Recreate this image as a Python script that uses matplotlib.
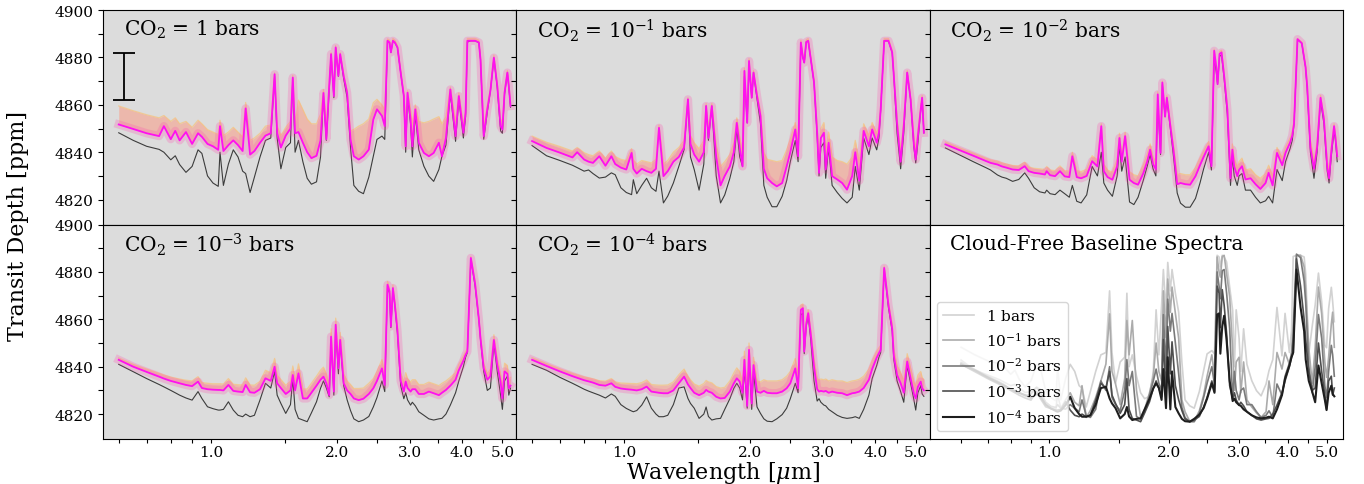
import matplotlib
matplotlib.use('Agg')
import numpy as np
import matplotlib.pyplot as plt
from matplotlib.ticker import NullLocator, FuncFormatter

plt.rcParams['font.family'] = 'serif'
plt.rcParams['font.serif'] = ['DejaVu Serif']
plt.rcParams['mathtext.fontset'] = 'dejavuserif'

# ------------------------------------------------------------
# wavelength grid [um]
# ------------------------------------------------------------
wave = [0.60, 0.65, 0.70, 0.75, 0.77, 0.80, 0.82, 0.84, 0.87, 0.90,
        0.93, 0.95, 0.98, 1.01, 1.04, 1.05, 1.07, 1.10, 1.13, 1.16,
        1.19, 1.21, 1.24, 1.27, 1.31, 1.35, 1.39, 1.42, 1.44, 1.47,
        1.51, 1.55, 1.57, 1.59, 1.62, 1.66, 1.70, 1.74, 1.79, 1.83,
        1.86, 1.89, 1.92, 1.94, 1.97, 1.99, 2.02, 2.04, 2.08, 2.12,
        2.16, 2.20, 2.26, 2.32, 2.39, 2.45, 2.50, 2.57, 2.61, 2.65,
        2.68, 2.70, 2.73, 2.76, 2.80, 2.85, 2.90, 2.93, 2.96, 3.01,
        3.04, 3.09, 3.15, 3.24, 3.33, 3.42, 3.52, 3.58, 3.66, 3.75,
        3.86, 3.93, 4.03, 4.08, 4.12, 4.20, 4.30, 4.39, 4.43, 4.51,
        4.60, 4.68, 4.77, 4.86, 4.95, 5.00, 5.06, 5.14, 5.18, 5.23]

# ---------------- CO2 = 1 bar ----------------
clear_0 = [4848.2, 4845.0, 4842.5, 4841.2, 4840.0, 4836.8, 4838.5, 4834.8, 4831.5, 4834.0,
           4841.0, 4839.5, 4830.0, 4827.0, 4825.6, 4840.0, 4826.0, 4835.0, 4841.0, 4838.0,
           4832.0, 4831.0, 4823.0, 4829.5, 4838.0, 4845.0, 4846.0, 4872.0, 4846.0, 4833.0,
           4842.0, 4844.0, 4871.0, 4840.0, 4845.0, 4836.0, 4829.0, 4826.5, 4827.5, 4838.0,
           4864.0, 4845.0, 4866.0, 4881.0, 4863.0, 4884.0, 4872.0, 4881.0, 4871.0, 4863.0,
           4842.0, 4826.0, 4823.5, 4822.5, 4829.5, 4838.3, 4845.4, 4846.8, 4845.4, 4887.0,
           4886.3, 4882.1, 4887.0, 4886.3, 4884.2, 4873.6, 4863.7, 4840.0, 4864.0, 4852.0,
           4838.0, 4856.0, 4841.0, 4834.1, 4829.9, 4827.7, 4832.7, 4838.3, 4843.0, 4865.0,
           4844.6, 4862.5, 4846.0, 4855.0, 4886.5, 4887.0, 4887.0, 4886.3, 4879.2, 4845.5,
           4857.0, 4866.0, 4879.5, 4867.5, 4849.0, 4848.0, 4864.5, 4873.5, 4867.5, 4859.0]
cloud_0 = [4851.7, 4849.8, 4848.0, 4846.8, 4851.0, 4845.5, 4849.0, 4845.0, 4848.5, 4843.5,
           4848.0, 4846.5, 4843.5, 4842.5, 4841.0, 4851.0, 4840.5, 4843.0, 4845.0, 4843.0,
           4840.5, 4858.5, 4839.0, 4840.5, 4844.0, 4847.0, 4848.0, 4872.9, 4848.0, 4842.0,
           4847.0, 4850.0, 4871.5, 4848.0, 4848.5, 4844.0, 4840.0, 4837.5, 4838.5, 4845.0,
           4865.0, 4845.5, 4868.0, 4881.4, 4863.7, 4884.2, 4872.2, 4881.4, 4872.0, 4865.0,
           4845.4, 4838.3, 4836.9, 4838.3, 4841.1, 4853.8, 4858.1, 4855.3, 4851.0, 4887.0,
           4886.3, 4882.1, 4887.0, 4886.3, 4884.2, 4873.6, 4863.7, 4842.5, 4865.1, 4853.8,
           4842.5, 4858.1, 4844.0, 4839.7, 4838.3, 4839.7, 4844.0, 4838.3, 4846.0, 4866.5,
           4846.8, 4863.7, 4848.2, 4856.7, 4887.0, 4887.0, 4887.0, 4886.3, 4879.2, 4846.8,
           4858.1, 4866.0, 4879.9, 4868.0, 4851.0, 4849.6, 4865.1, 4873.6, 4868.0, 4859.5]
top_0 = [4859.5, 4857.5, 4855.8, 4854.5, 4855.5, 4853.0, 4854.5, 4852.0, 4853.0, 4850.5,
         4853.5, 4852.0, 4849.5, 4848.5, 4847.5, 4853.5, 4847.0, 4848.5, 4850.5, 4848.5,
         4846.5, 4861.0, 4845.0, 4846.0, 4848.0, 4851.0, 4851.5, 4873.5, 4851.0, 4847.0,
         4850.5, 4853.0, 4872.5, 4851.5, 4862.0, 4858.0, 4854.0, 4852.0, 4852.0, 4856.0,
         4866.5, 4852.0, 4869.0, 4882.0, 4865.0, 4885.0, 4873.0, 4882.0, 4873.0, 4866.0,
         4849.0, 4849.6, 4851.0, 4852.0, 4854.0, 4860.9, 4862.3, 4860.0, 4858.0, 4887.8,
         4887.3, 4883.0, 4888.0, 4887.3, 4885.0, 4874.5, 4865.0, 4853.0, 4866.0, 4858.0,
         4852.0, 4860.0, 4853.0, 4852.4, 4853.0, 4854.0, 4855.0, 4852.0, 4855.0, 4867.5,
         4853.0, 4865.0, 4852.0, 4858.0, 4888.0, 4888.0, 4888.0, 4887.3, 4880.0, 4851.0,
         4860.0, 4867.0, 4881.0, 4869.0, 4854.0, 4853.0, 4866.0, 4874.5, 4869.0, 4861.0]

# ---------------- CO2 = 1e-1 bar ----------------
clear_1 = [4842.8, 4838.5, 4836.5, 4834.5, 4833.5, 4832.0, 4832.5, 4831.0, 4829.1, 4829.5,
           4831.3, 4830.5, 4825.0, 4823.0, 4822.1, 4828.4, 4822.5, 4826.0, 4829.0, 4825.0,
           4823.5, 4832.0, 4818.6, 4821.5, 4827.0, 4834.0, 4841.1, 4862.3, 4838.0, 4832.7,
           4824.0, 4835.0, 4859.5, 4845.0, 4859.5, 4830.0, 4818.6, 4822.0, 4829.0, 4836.0,
           4850.0, 4838.0, 4834.0, 4872.0, 4852.4, 4877.0, 4863.0, 4873.6, 4862.5, 4852.0,
           4826.0, 4821.0, 4817.0, 4817.0, 4821.4, 4828.0, 4836.0, 4845.0, 4836.0, 4886.3,
           4880.0, 4877.8, 4886.5, 4887.0, 4879.2, 4869.5, 4847.0, 4830.0, 4842.0, 4844.0,
           4829.0, 4842.0, 4826.0, 4823.0, 4820.5, 4818.6, 4821.0, 4834.0, 4824.0, 4846.0,
           4839.0, 4846.0, 4841.0, 4846.0, 4858.0, 4887.0, 4887.0, 4882.1, 4872.2, 4848.0,
           4833.0, 4848.0, 4873.6, 4862.3, 4842.0, 4835.5, 4844.0, 4858.0, 4863.0, 4848.2]
cloud_1 = [4844.7, 4841.8, 4839.8, 4837.8, 4840.0, 4836.9, 4836.0, 4835.5, 4838.3, 4834.3,
           4838.3, 4835.0, 4833.5, 4832.7, 4839.7, 4833.0, 4831.0, 4833.0, 4832.0, 4831.3,
           4833.0, 4850.3, 4829.9, 4832.0, 4836.0, 4838.0, 4842.0, 4862.3, 4843.5, 4839.0,
           4836.0, 4840.0, 4859.5, 4846.0, 4859.5, 4838.0, 4826.0, 4830.0, 4834.0, 4840.0,
           4852.4, 4842.0, 4834.0, 4874.3, 4852.4, 4878.5, 4863.0, 4873.6, 4863.7, 4855.3,
           4833.0, 4829.0, 4827.0, 4825.6, 4827.0, 4834.0, 4840.0, 4849.6, 4838.3, 4886.3,
           4880.0, 4877.8, 4886.5, 4887.0, 4879.2, 4869.5, 4848.0, 4831.3, 4846.0, 4848.2,
           4832.7, 4844.0, 4829.9, 4828.5, 4827.0, 4824.2, 4830.0, 4840.0, 4828.0, 4849.0,
           4842.5, 4849.6, 4844.0, 4848.2, 4858.0, 4887.0, 4887.0, 4882.1, 4872.2, 4852.0,
           4836.0, 4851.0, 4873.6, 4862.3, 4843.0, 4836.9, 4846.8, 4858.0, 4863.0, 4848.2]
top_1 = [4846.8, 4844.2, 4842.4, 4840.5, 4842.0, 4839.8, 4839.0, 4838.5, 4840.5, 4837.5,
         4840.5, 4838.2, 4837.0, 4836.5, 4841.5, 4836.8, 4835.0, 4836.5, 4836.0, 4835.5,
         4837.0, 4851.5, 4835.0, 4836.5, 4840.0, 4842.0, 4845.0, 4863.0, 4847.0, 4844.0,
         4841.5, 4845.0, 4860.5, 4850.0, 4860.5, 4843.0, 4834.0, 4836.0, 4839.0, 4844.0,
         4854.5, 4846.5, 4840.0, 4875.5, 4855.0, 4879.5, 4865.0, 4874.5, 4865.0, 4857.5,
         4840.0, 4837.0, 4836.5, 4836.0, 4836.5, 4841.0, 4845.5, 4852.5, 4844.0, 4887.3,
         4881.0, 4878.8, 4887.5, 4888.0, 4880.2, 4870.5, 4851.0, 4838.0, 4850.0, 4852.5,
         4840.0, 4848.5, 4838.0, 4836.5, 4836.0, 4835.0, 4838.0, 4845.0, 4836.0, 4852.0,
         4847.0, 4852.5, 4848.0, 4851.0, 4860.0, 4888.0, 4888.0, 4883.0, 4873.0, 4854.5,
         4840.5, 4853.5, 4874.5, 4863.5, 4846.5, 4841.0, 4849.5, 4859.5, 4864.0, 4849.5]

# ---------------- CO2 = 1e-2 bar ----------------
clear_2 = [4841.8, 4838.8, 4836.0, 4833.5, 4832.5, 4830.4, 4829.5, 4829.0, 4827.7, 4828.5,
           4831.3, 4829.0, 4825.0, 4823.3, 4822.8, 4824.0, 4822.5, 4822.1, 4824.0, 4822.5,
           4821.0, 4826.0, 4819.3, 4818.6, 4822.0, 4834.0, 4830.0, 4840.0, 4827.0, 4824.0,
           4821.4, 4830.0, 4843.0, 4832.0, 4838.0, 4819.0, 4817.9, 4821.0, 4828.0, 4834.0,
           4839.0, 4833.0, 4830.0, 4862.0, 4839.0, 4868.5, 4855.0, 4862.5, 4850.0, 4837.0,
           4822.8, 4818.5, 4816.8, 4816.8, 4820.5, 4827.0, 4833.0, 4840.0, 4832.5, 4880.0,
           4874.0, 4868.7, 4880.5, 4881.0, 4871.0, 4856.0, 4826.0, 4838.0, 4830.0, 4826.0,
           4830.0, 4831.0, 4824.0, 4824.0, 4821.0, 4818.6, 4819.5, 4821.4, 4818.6, 4832.7,
           4828.0, 4836.0, 4841.5, 4845.0, 4852.0, 4887.5, 4886.0, 4876.0, 4867.0, 4840.0,
           4829.0, 4840.0, 4862.0, 4852.0, 4832.0, 4827.0, 4838.0, 4849.0, 4845.0, 4836.0]
cloud_2 = [4843.3, 4840.8, 4838.5, 4836.3, 4835.5, 4834.8, 4834.0, 4833.5, 4832.7, 4832.5,
           4834.1, 4832.0, 4831.3, 4831.0, 4830.6, 4832.0, 4830.3, 4829.9, 4832.0, 4829.8,
           4829.5, 4838.3, 4829.5, 4829.0, 4830.0, 4836.2, 4834.0, 4851.0, 4832.0, 4829.5,
           4828.4, 4834.0, 4846.0, 4836.0, 4846.8, 4828.4, 4827.0, 4826.3, 4831.0, 4836.0,
           4841.1, 4835.0, 4832.7, 4864.4, 4839.7, 4869.4, 4855.0, 4863.0, 4851.0, 4839.7,
           4826.5, 4827.0, 4826.5, 4826.3, 4829.9, 4834.5, 4838.0, 4842.5, 4834.1, 4882.8,
           4876.0, 4868.7, 4881.5, 4882.1, 4872.2, 4858.1, 4829.0, 4841.1, 4834.0, 4829.9,
           4832.5, 4834.1, 4828.5, 4829.0, 4826.5, 4824.5, 4827.0, 4831.3, 4826.0, 4839.7,
           4834.5, 4839.7, 4844.0, 4847.0, 4852.0, 4887.7, 4886.0, 4876.0, 4868.0, 4842.0,
           4833.0, 4842.0, 4863.0, 4853.8, 4833.5, 4829.0, 4840.0, 4851.0, 4846.0, 4838.3]
top_2 = [4844.3, 4841.8, 4839.6, 4837.5, 4836.8, 4836.2, 4835.5, 4835.0, 4834.4, 4834.2,
         4835.8, 4833.8, 4833.2, 4833.0, 4832.7, 4834.0, 4832.5, 4832.2, 4834.2, 4832.2,
         4832.0, 4840.0, 4832.2, 4831.8, 4832.8, 4838.5, 4836.8, 4852.0, 4835.0, 4832.5,
         4831.5, 4837.0, 4848.0, 4839.0, 4848.5, 4831.8, 4830.5, 4830.0, 4834.5, 4839.0,
         4843.5, 4838.0, 4836.0, 4865.5, 4842.0, 4870.0, 4856.5, 4864.0, 4852.5, 4842.0,
         4830.5, 4831.0, 4830.5, 4830.5, 4833.5, 4837.5, 4840.5, 4844.5, 4837.0, 4883.5,
         4877.0, 4870.0, 4882.5, 4883.0, 4873.0, 4859.5, 4833.0, 4843.5, 4837.5, 4833.5,
         4836.0, 4837.5, 4832.5, 4833.0, 4830.5, 4829.0, 4831.0, 4834.5, 4830.0, 4842.0,
         4837.5, 4842.0, 4846.0, 4849.0, 4853.5, 4888.0, 4886.5, 4876.8, 4869.0, 4845.0,
         4836.5, 4844.5, 4864.0, 4855.0, 4836.5, 4832.5, 4842.5, 4852.0, 4847.5, 4840.0]

# ---------------- CO2 = 1e-3 bar ----------------
clear_3 = [4841.0, 4837.9, 4835.0, 4832.5, 4831.5, 4830.0, 4829.0, 4828.0, 4826.8, 4825.9,
           4829.5, 4826.6, 4823.1, 4822.3, 4821.7, 4821.7, 4822.0, 4825.2, 4821.7, 4819.5,
           4818.9, 4820.0, 4818.9, 4819.5, 4826.0, 4833.0, 4831.0, 4838.0, 4828.0, 4824.5,
           4820.3, 4824.0, 4835.0, 4822.0, 4818.2, 4817.5, 4816.8, 4820.5, 4825.2, 4830.9,
           4834.0, 4831.0, 4827.3, 4851.5, 4828.0, 4857.0, 4837.0, 4850.5, 4832.0, 4826.0,
           4821.5, 4818.0, 4816.8, 4817.5, 4819.0, 4823.0, 4827.0, 4834.0, 4829.5, 4874.0,
           4871.0, 4856.5, 4872.5, 4866.0, 4854.0, 4832.0, 4826.5, 4829.0, 4826.0, 4823.8,
           4825.0, 4823.5, 4821.0, 4819.5, 4818.0, 4817.5, 4818.0, 4818.2, 4820.0, 4823.8,
           4829.0, 4834.0, 4840.0, 4844.0, 4846.0, 4885.5, 4874.0, 4860.0, 4851.5, 4838.0,
           4830.0, 4831.0, 4850.0, 4838.0, 4828.0, 4822.0, 4834.0, 4836.0, 4828.0, 4831.0]
cloud_3 = [4842.9, 4840.0, 4837.8, 4835.8, 4835.0, 4834.0, 4833.5, 4833.0, 4832.3, 4831.8,
           4833.7, 4831.0, 4830.5, 4830.3, 4830.2, 4830.2, 4830.0, 4832.3, 4829.8, 4829.5,
           4829.3, 4832.3, 4829.2, 4829.0, 4830.5, 4835.1, 4834.0, 4840.0, 4833.0, 4831.0,
           4828.5, 4830.0, 4836.5, 4830.0, 4837.2, 4826.6, 4826.6, 4829.0, 4832.0, 4834.5,
           4835.8, 4833.0, 4828.0, 4852.7, 4829.5, 4857.7, 4839.3, 4851.3, 4833.0, 4830.0,
           4828.5, 4826.6, 4825.9, 4826.5, 4828.5, 4830.9, 4834.0, 4839.3, 4832.3, 4874.6,
           4871.8, 4857.0, 4873.2, 4866.1, 4855.0, 4834.0, 4829.5, 4833.7, 4831.0, 4829.5,
           4830.5, 4830.5, 4828.5, 4828.5, 4829.5, 4828.8, 4828.0, 4829.0, 4830.2, 4832.0,
           4834.5, 4838.5, 4842.5, 4845.0, 4846.4, 4885.9, 4875.0, 4860.0, 4852.0, 4839.3,
           4834.5, 4836.0, 4851.3, 4840.7, 4833.7, 4826.6, 4838.0, 4837.0, 4830.9, 4832.0]
top_3 = [4843.7, 4841.0, 4839.0, 4837.2, 4836.5, 4835.6, 4835.2, 4834.8, 4834.3, 4834.0,
         4835.8, 4833.3, 4833.0, 4832.8, 4832.8, 4832.8, 4832.7, 4835.0, 4832.6, 4832.4,
         4832.3, 4835.3, 4832.3, 4832.2, 4833.8, 4838.5, 4837.5, 4843.5, 4836.5, 4834.6,
         4832.2, 4833.8, 4840.3, 4833.9, 4841.2, 4830.6, 4830.6, 4833.0, 4836.0, 4838.5,
         4839.8, 4837.0, 4832.0, 4856.0, 4833.5, 4860.5, 4843.0, 4854.5, 4837.0, 4834.0,
         4832.5, 4830.8, 4830.8, 4831.0, 4833.0, 4835.0, 4838.0, 4843.0, 4836.5, 4876.0,
         4873.0, 4859.5, 4874.5, 4867.5, 4857.0, 4837.5, 4833.5, 4837.5, 4835.0, 4833.5,
         4834.5, 4834.5, 4832.5, 4832.5, 4833.5, 4832.8, 4832.0, 4833.0, 4834.0, 4835.5,
         4837.5, 4841.0, 4844.5, 4846.5, 4847.5, 4886.5, 4876.0, 4861.0, 4853.0, 4841.5,
         4837.0, 4839.0, 4853.5, 4843.5, 4837.0, 4830.5, 4841.5, 4840.5, 4834.5, 4835.5]

# ---------------- CO2 = 1e-4 bar ----------------
clear_4 = [4841.0, 4838.5, 4835.5, 4833.0, 4832.0, 4830.5, 4829.7, 4829.0, 4828.0, 4826.8,
           4828.5, 4827.5, 4824.0, 4822.4, 4821.3, 4821.0, 4821.5, 4823.8, 4827.3, 4822.5,
           4820.0, 4818.9, 4818.9, 4819.5, 4824.0, 4831.0, 4831.5, 4826.6, 4824.5, 4822.5,
           4818.2, 4820.0, 4823.0, 4819.0, 4817.5, 4818.0, 4818.2, 4822.0, 4826.5, 4830.9,
           4833.0, 4831.0, 4826.0, 4839.0, 4822.5, 4844.0, 4822.0, 4838.0, 4823.0, 4820.3,
           4818.0, 4817.0, 4816.8, 4818.0, 4819.8, 4822.5, 4826.5, 4833.0, 4829.0, 4862.0,
           4862.5, 4845.5, 4857.0, 4861.5, 4851.0, 4834.0, 4825.5, 4826.5, 4825.0, 4823.8,
           4823.5, 4822.0, 4821.0, 4819.5, 4818.6, 4818.2, 4818.5, 4818.9, 4818.2, 4822.0,
           4828.0, 4835.0, 4840.5, 4844.0, 4846.0, 4881.0, 4865.0, 4855.0, 4843.0, 4834.0,
           4829.5, 4825.0, 4840.5, 4833.0, 4826.0, 4821.7, 4829.0, 4832.0, 4828.5, 4827.5]
cloud_4 = [4842.9, 4840.3, 4838.0, 4836.0, 4835.3, 4834.3, 4833.8, 4833.3, 4832.3, 4832.0,
           4833.0, 4831.5, 4830.8, 4830.5, 4830.3, 4830.2, 4830.0, 4830.5, 4831.6, 4829.5,
           4829.2, 4829.0, 4828.8, 4828.8, 4830.0, 4833.0, 4835.8, 4832.5, 4831.0, 4829.0,
           4828.0, 4829.0, 4830.2, 4829.5, 4829.0, 4827.3, 4826.6, 4826.8, 4829.5, 4833.0,
           4835.1, 4833.7, 4829.0, 4842.9, 4823.5, 4847.1, 4824.5, 4840.7, 4829.5, 4829.0,
           4829.8, 4829.0, 4828.8, 4828.8, 4829.5, 4830.9, 4833.0, 4839.3, 4830.9, 4864.0,
           4864.7, 4846.4, 4858.0, 4862.6, 4853.4, 4840.0, 4830.5, 4829.5, 4829.8, 4829.5,
           4829.8, 4829.0, 4829.5, 4829.0, 4828.8, 4828.0, 4828.8, 4829.0, 4829.5, 4831.0,
           4834.5, 4839.0, 4843.8, 4845.7, 4847.1, 4881.7, 4866.0, 4856.0, 4844.5, 4836.5,
           4833.0, 4829.0, 4842.2, 4835.1, 4828.5, 4826.6, 4831.5, 4833.7, 4830.9, 4830.0]
top_4 = [4843.8, 4841.3, 4839.1, 4837.2, 4836.6, 4835.7, 4835.3, 4834.9, 4834.1, 4833.9,
         4835.0, 4833.6, 4833.1, 4833.0, 4832.9, 4832.9, 4832.8, 4833.3, 4834.4, 4832.5,
         4832.3, 4832.2, 4832.2, 4832.3, 4833.6, 4836.6, 4839.0, 4836.0, 4834.5, 4832.7,
         4831.8, 4832.9, 4834.2, 4833.6, 4833.2, 4831.6, 4831.0, 4831.3, 4834.0, 4837.4,
         4839.5, 4838.0, 4833.5, 4846.5, 4828.5, 4850.0, 4829.5, 4844.0, 4834.0, 4833.6,
         4834.5, 4834.0, 4834.0, 4834.0, 4834.5, 4836.0, 4838.0, 4843.5, 4836.0, 4866.0,
         4866.5, 4849.0, 4860.0, 4864.0, 4855.5, 4843.5, 4835.0, 4834.5, 4834.8, 4834.5,
         4834.8, 4834.0, 4834.5, 4834.0, 4834.0, 4833.3, 4834.0, 4834.2, 4834.7, 4836.0,
         4839.0, 4842.5, 4846.5, 4848.0, 4849.0, 4882.5, 4867.5, 4858.0, 4847.5, 4840.5,
         4837.5, 4834.0, 4845.5, 4839.5, 4833.5, 4832.0, 4836.5, 4838.0, 4835.5, 4834.5]

co2_labels = ['1', '10^{-1}', '10^{-2}', '10^{-3}', '10^{-4}']
clear_all = [clear_0, clear_1, clear_2, clear_3, clear_4]
cloud_all = [cloud_0, cloud_1, cloud_2, cloud_3, cloud_4]
top_all = [top_0, top_1, top_2, top_3, top_4]
baseline_grays = ['#d2d2d2', '#ababab', '#7a7a7a', '#4e4e4e', '#1e1e1e']

xticks = [0.6, 0.7, 0.8, 0.9, 1.0, 1.5, 2.0, 2.5, 3.0, 3.5, 4.0, 4.5, 5.0]
xticklabels = ['', '', '', '', '1.0', '', '2.0', '', '3.0', '', '4.0', '', '5.0']

# ============================================================
fig, axes = plt.subplots(2, 3, figsize=(13.64, 4.85), dpi=100, sharey=True)
fig.subplots_adjust(left=0.0755, right=0.9846, top=0.9773, bottom=0.0928,
                    wspace=0, hspace=0)

for i, ax in enumerate(axes.flat[:5]):
    ax.set_facecolor('#dcdcdc')
    ax.plot(wave, clear_all[i], color='#3c3c3c', lw=0.8, zorder=2)
    # cloudy band: pale orange on top, pink towards the magenta line
    ax.fill_between(wave, cloud_all[i], top_all[i], color='#fb9c86',
                    alpha=0.55, lw=0, zorder=3)
    ax.plot(wave, top_all[i], color='#f7c27a', lw=0.9, alpha=0.7, zorder=3)
    ax.plot(wave, cloud_all[i], color='#ff50b0', lw=6, alpha=0.25, zorder=4)
    ax.plot(wave, cloud_all[i], color='#ff10f0', lw=1.3, zorder=5)
    ax.set_xscale('log')
    ax.set_xlim(0.55, 5.4)
    ax.text(0.05, 0.91, r'CO$_2$ = $%s$ bars' % co2_labels[i],
            transform=ax.transAxes, fontsize=14.5, va='center')

# error bar marker in first panel
axes[0, 0].errorbar([0.618], [4872], yerr=[10], color='k', capsize=8,
                    lw=1.3, capthick=1.3, zorder=6)

# cloud-free baseline panel
axb = axes[1, 2]
axb.set_facecolor('white')
for i in range(5):
    axb.plot(wave, clear_all[i], color=baseline_grays[i],
             lw=1.5 if i == 4 else 1.2, label=r'$%s$ bars' % co2_labels[i])
axb.set_xscale('log')
axb.set_xlim(0.5, 5.5)
axb.text(0.05, 0.91, 'Cloud-Free Baseline Spectra', transform=axb.transAxes,
         fontsize=14.5, va='center')
axb.legend(loc='lower left', fontsize=11)

for ax in axes.flat:
    ax.set_xticks(xticks)
    ax.set_xticklabels(xticklabels)
    ax.xaxis.set_minor_locator(NullLocator())
    ax.set_ylim(4809.5, 4900)
    ax.set_yticks(np.arange(4820, 4901, 10))
    ax.yaxis.set_major_formatter(FuncFormatter(lambda v, p: '%d' % v if int(round(v)) % 20 == 0 else ''))
    ax.tick_params(labelsize=11)
    ax.tick_params(axis='x', length=3, pad=1.5)
for ax in axes[0]:
    ax.tick_params(labelbottom=False)

fig.text(0.013, 0.535, 'Transit Depth [ppm]', rotation=90, ha='center',
         va='center', fontsize=16)
fig.text(0.53, 0.025, r'Wavelength [$\mu$m]', ha='center', va='center',
         fontsize=16)

plt.savefig('out.png', dpi=100)
